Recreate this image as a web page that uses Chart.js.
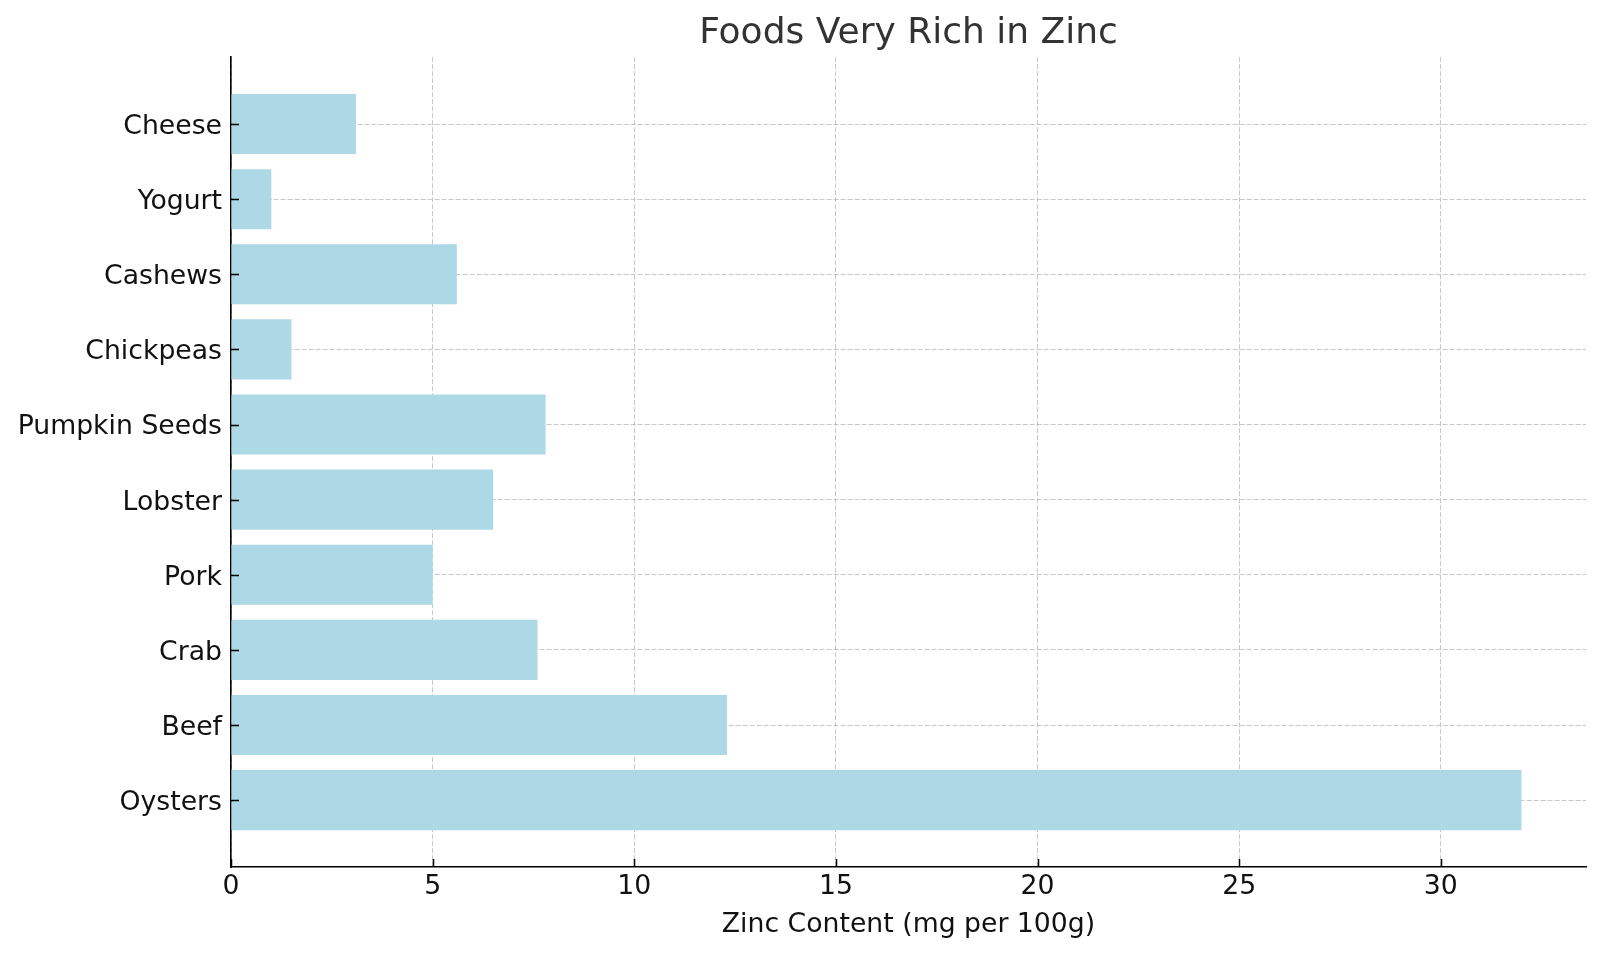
<!DOCTYPE html>
<html>
<head>
<meta charset="utf-8">
<script src="https://cdn.jsdelivr.net/npm/chart.js@4.4.1/dist/chart.umd.min.js"></script>
<style>
  html, body { margin: 0; padding: 0; background: #ffffff; }
  #wrap { width: 1600px; height: 954px; }
</style>
</head>
<body>
<div id="wrap"><canvas id="c" width="1600" height="954"></canvas></div>
<script>
// ---- data (bottom to top, as in the reference) ----
const categories = ["Oysters", "Beef", "Crab", "Pork", "Lobster", "Pumpkin Seeds", "Chickpeas", "Cashews", "Yogurt", "Cheese"];
const zincValues = [32, 12.3, 7.6, 5.0, 6.5, 7.8, 1.5, 5.6, 1.0, 3.1];
const xTickValues = [0, 5, 10, 15, 20, 25, 30];
const chartTitle = "Foods Very Rich in Zinc";
const xAxisTitle = "Zinc Content (mg per 100g)";

const FONT = "'DejaVu Sans', 'Liberation Sans', sans-serif";
const TICK_SIZE = 26.7;

// Inward tick marks, positioned through the chart's own scales
const inwardTicks = {
  id: 'inwardTicks',
  afterDraw(chart) {
    const ctx = chart.ctx;
    const xs = chart.scales.x, ys = chart.scales.y;
    const a = chart.chartArea;
    ctx.save();
    ctx.strokeStyle = '#000000';
    ctx.lineWidth = 1.5;
    ctx.beginPath();
    xs.ticks.forEach(t => {
      const px = Math.round(xs.getPixelForValue(t.value)) + 0.5;
      ctx.moveTo(px, a.bottom);
      ctx.lineTo(px, a.bottom - 8);
    });
    ys.ticks.forEach(t => {
      const py = Math.round(ys.getPixelForValue(t.value)) + 0.5;
      ctx.moveTo(a.left, py);
      ctx.lineTo(a.left + 8, py);
    });
    ctx.stroke();
    ctx.restore();
  }
};

const ctx = document.getElementById('c').getContext('2d');
new Chart(ctx, {
  type: 'bar',
  data: {
    datasets: [{
      data: zincValues.map((v, i) => ({ x: v, y: i })),
      backgroundColor: '#ADD8E6',
      borderWidth: 0,
      barPercentage: 0.8,
      categoryPercentage: 1.0
    }]
  },
  options: {
    indexAxis: 'y',
    responsive: false,
    devicePixelRatio: 1,
    animation: false,
    layout: { padding: { left: 0, right: 14, top: 0, bottom: 0 } },
    plugins: {
      legend: { display: false },
      tooltip: { enabled: false },
      title: {
        display: true,
        fullSize: false,
        text: chartTitle,
        color: '#333333',
        font: { family: FONT, size: 36, weight: 'normal' },
        padding: { top: 12, bottom: 2 }
      }
    },
    scales: {
      x: {
        type: 'linear',
        position: 'bottom',
        min: 0,
        max: 33.6,
        z: 1,
        afterBuildTicks: (scale) => { scale.ticks = xTickValues.map(v => ({ value: v })); },
        afterFit: (scale) => { scale.height = 87; },
        ticks: {
          color: '#111111',
          font: { family: FONT, size: TICK_SIZE },
          padding: 4,
          maxRotation: 0
        },
        grid: {
          display: true,
          drawOnChartArea: true,
          drawTicks: false,
          tickLength: 0,
          color: 'rgba(176,176,176,0.7)',
          lineWidth: 1
        },
        border: { display: true, color: '#000000', width: 1.6, dash: [5, 2] },
        title: {
          display: true,
          text: xAxisTitle,
          color: '#111111',
          font: { family: FONT, size: TICK_SIZE },
          padding: { top: 0, bottom: 13 }
        }
      },
      y: {
        type: 'linear',
        position: 'left',
        min: -0.89,
        max: 9.89,
        offset: false,
        z: 1,
        afterBuildTicks: (scale) => { scale.ticks = categories.map((_, i) => ({ value: i })); },
        afterFit: (scale) => { scale.width = 231; },
        ticks: {
          color: '#111111',
          font: { family: FONT, size: TICK_SIZE },
          padding: 9,
          labelOffset: 3,
          callback: (v) => categories[v]
        },
        grid: {
          display: true,
          offset: false,
          drawOnChartArea: true,
          drawTicks: false,
          tickLength: 0,
          color: 'rgba(176,176,176,0.7)',
          lineWidth: 1
        },
        border: { display: true, color: '#000000', width: 1.6, dash: [5, 2] }
      }
    }
  },
  plugins: [inwardTicks]
});
</script>
</body>
</html>
